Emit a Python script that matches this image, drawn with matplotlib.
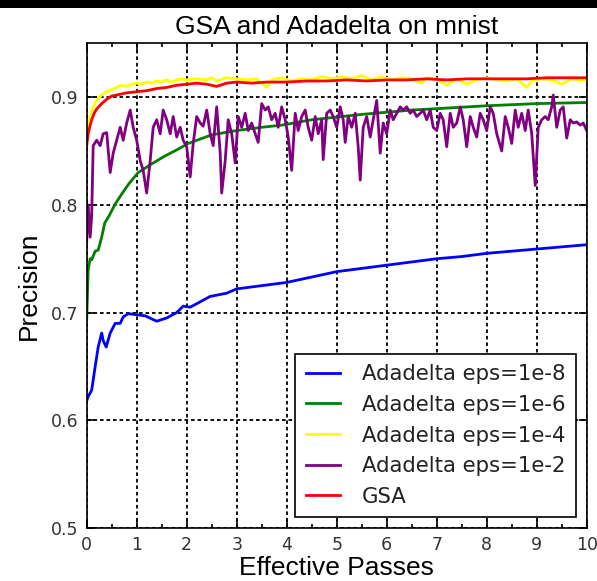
import matplotlib
matplotlib.use('Agg')
from matplotlib import pyplot as plt
from matplotlib.patches import Rectangle

# Adadelta eps=1e-8
x_blue = [0.0, 0.03, 0.1, 0.17, 0.23, 0.3, 0.33, 0.39, 0.47, 0.57, 0.67, 0.73, 0.83, 1.0, 1.17,
          1.4, 1.6, 1.8, 1.93, 2.07, 2.27, 2.47, 2.8, 3.0, 3.5, 4.0, 4.5, 5.0, 5.5, 6.0, 6.5,
          7.0, 7.5, 8.0, 8.5, 9.0, 9.5, 10.0]
y_blue = [0.618, 0.622, 0.628, 0.650, 0.668, 0.681, 0.674, 0.668, 0.681, 0.690, 0.690, 0.696, 0.699,
          0.698, 0.697, 0.692, 0.695, 0.700, 0.706, 0.705, 0.710, 0.715, 0.718, 0.722, 0.725, 0.728,
          0.733, 0.738, 0.741, 0.744, 0.747, 0.750, 0.752, 0.755, 0.757, 0.759, 0.761, 0.763]

# Adadelta eps=1e-6
x_green = [0.0, 0.03, 0.07, 0.1, 0.17, 0.23, 0.3, 0.36, 0.45, 0.56, 0.7, 0.85, 1.03, 1.3, 1.55,
           1.8, 2.03, 2.5, 3.0, 3.5, 3.9, 4.5, 4.9, 5.5, 6.0, 6.5, 7.26, 8.0, 9.0, 10.0]
y_green = [0.693, 0.740, 0.750, 0.749, 0.757, 0.758, 0.770, 0.783, 0.790, 0.800, 0.810, 0.820, 0.830,
           0.838, 0.845, 0.851, 0.857, 0.865, 0.869, 0.872, 0.874, 0.879, 0.881, 0.884, 0.886, 0.888,
           0.890, 0.892, 0.894, 0.895]

# Adadelta eps=1e-4
x_yellow = [0.0, 0.05, 0.1, 0.15, 0.2, 0.3, 0.4, 0.5, 0.6, 0.7, 0.8, 0.9, 1.0, 1.1, 1.2, 1.3, 1.4,
            1.5, 1.6, 1.7, 1.8, 1.9, 2.0, 2.2, 2.4, 2.5, 2.6, 2.8, 3.0, 3.2, 3.4, 3.6, 3.7, 3.9,
            4.1, 4.3, 4.5, 4.7, 4.9, 5.1, 5.3, 5.5, 5.7, 5.9, 6.1, 6.3, 6.5, 6.7, 6.8, 7.0, 7.2,
            7.4, 7.6, 7.8, 8.0, 8.2, 8.4, 8.6, 8.8, 8.9, 9.1, 9.3, 9.5, 9.7, 9.9, 10.0]
y_yellow = [0.862, 0.878, 0.887, 0.893, 0.897, 0.902, 0.905, 0.907, 0.909, 0.911, 0.910, 0.912,
            0.913, 0.912, 0.914, 0.913, 0.915, 0.914, 0.916, 0.914, 0.916, 0.917, 0.916, 0.917,
            0.916, 0.918, 0.915, 0.918, 0.917, 0.916, 0.917, 0.909, 0.916, 0.918, 0.915, 0.917,
            0.916, 0.919, 0.917, 0.919, 0.917, 0.920, 0.916, 0.919, 0.916, 0.918, 0.917, 0.913,
            0.918, 0.917, 0.911, 0.917, 0.912, 0.916, 0.918, 0.916, 0.915, 0.917, 0.909, 0.915,
            0.917, 0.916, 0.912, 0.917, 0.915, 0.916]

# Adadelta eps=1e-2
x_purple = [0.0, 0.03, 0.07, 0.1, 0.13, 0.2, 0.27, 0.33, 0.4, 0.47, 0.53, 0.6, 0.67, 0.73, 0.8,
            0.87, 0.93, 1.0, 1.07, 1.13, 1.2, 1.27, 1.33, 1.4, 1.47, 1.53, 1.6, 1.67, 1.73, 1.8,
            1.87, 1.93, 2.0, 2.07, 2.13, 2.2, 2.27, 2.33, 2.4, 2.47, 2.53, 2.6, 2.67, 2.7, 2.77,
            2.83, 2.9, 2.97, 3.03, 3.1, 3.17, 3.23, 3.3, 3.37, 3.43, 3.5, 3.57, 3.63, 3.7, 3.77,
            3.83, 3.9, 3.97, 4.03, 4.1, 4.17, 4.23, 4.3, 4.37, 4.43, 4.5, 4.57, 4.63, 4.7, 4.73,
            4.8, 4.87, 4.93, 5.0, 5.07, 5.13, 5.17, 5.23, 5.3, 5.37, 5.43, 5.47, 5.53, 5.6, 5.67,
            5.73, 5.8, 5.87, 5.93, 6.0, 6.07, 6.13, 6.2, 6.27, 6.33, 6.4, 6.47, 6.53, 6.6, 6.67,
            6.73, 6.8, 6.87, 6.93, 7.0, 7.07, 7.13, 7.2, 7.27, 7.33, 7.4, 7.47, 7.53, 7.6, 7.67,
            7.73, 7.8, 7.87, 7.93, 8.0, 8.07, 8.13, 8.2, 8.3, 8.37, 8.43, 8.5, 8.57, 8.63, 8.7,
            8.77, 8.83, 8.9, 8.97, 9.03, 9.1, 9.17, 9.23, 9.3, 9.33, 9.4, 9.47, 9.53, 9.6, 9.67,
            9.73, 9.8, 9.87, 9.93, 10.0]
y_purple = [0.765, 0.800, 0.770, 0.790, 0.855, 0.860, 0.855, 0.866, 0.867, 0.830, 0.848, 0.860,
            0.872, 0.860, 0.876, 0.888, 0.872, 0.860, 0.841, 0.832, 0.811, 0.841, 0.872, 0.879,
            0.866, 0.888, 0.879, 0.866, 0.882, 0.863, 0.872, 0.860, 0.854, 0.826, 0.857, 0.882,
            0.876, 0.873, 0.888, 0.866, 0.855, 0.891, 0.848, 0.811, 0.841, 0.879, 0.866, 0.839,
            0.882, 0.872, 0.885, 0.869, 0.876, 0.866, 0.858, 0.894, 0.888, 0.891, 0.879, 0.885,
            0.872, 0.891, 0.879, 0.863, 0.832, 0.885, 0.869, 0.882, 0.888, 0.872, 0.860, 0.882,
            0.866, 0.879, 0.842, 0.885, 0.888, 0.882, 0.872, 0.891, 0.879, 0.858, 0.882, 0.872,
            0.885, 0.854, 0.823, 0.872, 0.882, 0.863, 0.879, 0.897, 0.848, 0.876, 0.866, 0.888,
            0.879, 0.885, 0.891, 0.888, 0.891, 0.885, 0.888, 0.882, 0.885, 0.888, 0.879, 0.888,
            0.872, 0.869, 0.885, 0.879, 0.854, 0.885, 0.872, 0.876, 0.891, 0.879, 0.854, 0.882,
            0.872, 0.863, 0.885, 0.879, 0.869, 0.891, 0.885, 0.866, 0.850, 0.882, 0.872, 0.857,
            0.888, 0.872, 0.885, 0.869, 0.888, 0.866, 0.818, 0.872, 0.879, 0.882, 0.879, 0.891,
            0.902, 0.872, 0.888, 0.891, 0.862, 0.879, 0.876, 0.877, 0.874, 0.876, 0.869]

# GSA
x_red = [0.0, 0.03, 0.07, 0.1, 0.15, 0.2, 0.3, 0.4, 0.5, 0.6, 0.8, 1.0, 1.2, 1.4, 1.6, 1.8, 2.0,
         2.2, 2.4, 2.6, 2.8, 3.0, 3.3, 3.6, 4.0, 4.4, 4.8, 5.2, 5.6, 6.0, 6.4, 6.8, 7.2, 7.6,
         8.0, 8.4, 8.8, 9.2, 9.6, 10.0]
y_red = [0.855, 0.866, 0.874, 0.879, 0.885, 0.889, 0.894, 0.898, 0.901, 0.902, 0.904, 0.905,
         0.906, 0.908, 0.909, 0.911, 0.912, 0.913, 0.912, 0.910, 0.913, 0.914, 0.913, 0.914,
         0.914, 0.915, 0.915, 0.916, 0.915, 0.916, 0.916, 0.917, 0.916, 0.917, 0.917, 0.917,
         0.917, 0.918, 0.918, 0.918]

labels = ['Adadelta eps=1e-8', 'Adadelta eps=1e-6', 'Adadelta eps=1e-4',
          'Adadelta eps=1e-2', 'GSA']
colors = ['#0000ff', '#008000', '#ffff00', '#800080', '#ff0000']
yticks = [0.5, 0.6, 0.7, 0.8, 0.9]

fig = plt.figure(figsize=(5.97, 5.81), dpi=100)
ax = fig.add_axes([0.1452, 0.0912, 0.8376, 0.8343])
fig.patches.append(Rectangle((0, 1 - 8 / 581), 1, 8 / 581, transform=fig.transFigure,
                             facecolor='black', edgecolor='none'))

series = [(x_blue, y_blue), (x_green, y_green), (x_yellow, y_yellow),
          (x_purple, y_purple), (x_red, y_red)]
for (xs, ys), lab, c in zip(series, labels, colors):
    ax.plot(xs, ys, color=c, lw=2, label=lab)

ax.set_xlim(0, 10)
ax.set_ylim(0.5, 0.95)
ax.set_xticks(range(11))
ax.set_xticks([i + 0.5 for i in range(10)], minor=True)
ax.set_yticks(yticks)
ax.set_yticklabels([f'{v:.1f}' for v in yticks])
ax.tick_params(which='both', direction='in', top=True, right=True, width=1.2)
ax.tick_params(which='major', length=6, labelsize=12.5, pad=6, labelcolor='#333333')
ax.tick_params(which='minor', length=3)
for s in ax.spines.values():
    s.set_linewidth(1.2)
ax.grid(True, color='black', linestyle=(0, (2, 1.6)), lw=1.3)
ax.set_axisbelow(True)

ax.set_title('GSA and Adadelta on mnist', family='Liberation Sans', fontsize=19, pad=7)
ax.set_xlabel('Effective Passes', family='Liberation Sans', fontsize=19, labelpad=1.5)
ax.set_ylabel('Precision', family='Liberation Sans', fontsize=19, labelpad=7)

leg = ax.legend(loc='lower right', fontsize=15.3, fancybox=False, framealpha=1,
                edgecolor='black', borderaxespad=0.5, borderpad=0.5, handlelength=1.6,
                handletextpad=1.05, labelspacing=0.5)
leg.get_frame().set_linewidth(1.2)
for t in leg.get_texts():
    t.set_color('#222222')

fig.savefig('out.png', dpi=100)
